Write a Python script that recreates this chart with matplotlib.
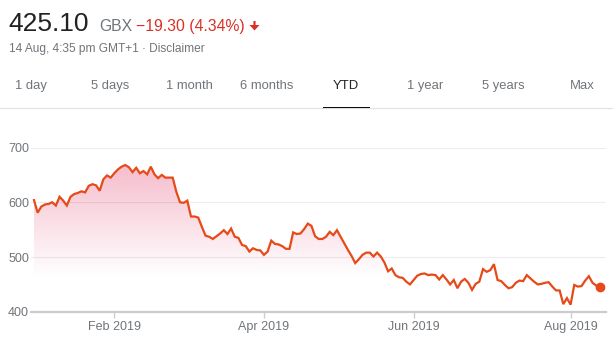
import numpy as np
import pandas as pd
import matplotlib
matplotlib.use("Agg")
import matplotlib.pyplot as plt
from matplotlib.lines import Line2D
from matplotlib.patches import Rectangle, FancyArrow

plt.rcParams['font.family'] = ['Liberation Sans', 'DejaVu Sans']

# daily closes (GBX), 2 Jan - 13 Aug 2019
prices = [
    604, 581, 592, 596, 597, 600, 594, 610, 603, 594,
    610, 615, 617, 620, 618, 630, 633, 631, 621, 642,
    649, 645, 653, 660, 665, 668, 664, 655, 663, 653,
    657, 651, 665, 651, 644, 650, 645, 645, 645, 619,
    600, 599, 603, 574, 574, 572, 555, 539, 537, 533,
    538, 543, 549, 542, 552, 537, 535, 522, 520, 510,
    516, 513, 512, 504, 510, 530, 524, 523, 520, 515,
    515, 545, 542, 543, 551, 561, 557, 538, 533, 533,
    537, 546, 540, 549, 537, 525, 513, 502, 489, 496,
    504, 508, 508, 501, 508, 501, 490, 474, 479, 467,
    463, 462, 455, 450, 458, 466, 469, 470, 467, 468,
    467, 459, 467, 459, 450, 458, 443, 455, 460, 453,
    440, 451, 455, 478, 473, 476, 487, 458, 456, 449,
    443, 445, 453, 457, 456, 467, 461, 455, 450, 451,
    453, 454, 446, 439, 439, 414, 425, 413, 449, 446,
    447, 457, 465, 453, 448, 444.4,
]
uk_holidays = ['2019-01-01', '2019-04-19', '2019-04-22', '2019-05-06', '2019-05-27']
dates = pd.bdate_range('2019-01-02', '2019-08-13', freq='C', holidays=uk_holidays)[:len(prices)]

tick_months = ['2019-02', '2019-04', '2019-06', '2019-08']
tick_labels = ['Feb 2019', 'Apr 2019', 'Jun 2019', 'Aug 2019']
y_ticks = [400, 500, 600, 700]

tabs = ['1 day', '5 days', '1 month', '6 months', 'YTD', '1 year', '5 years', 'Max']
tab_x = [31, 110, 189, 267, 346, 425.5, 503.5, 582.5]

W, H = 613, 343
GREY = '#70757a'
RED = '#d93025'
LINE = '#e64a19'


def px(x, y):
    return x / W, 1 - y / H


fig = plt.figure(figsize=(W / 100, H / 100), dpi=100)
ax = fig.add_axes([31 / W, 1 - 311.8 / H, 575 / W, 164.3 / H])

x = np.arange(len(prices))
y = np.array(prices)

# pink gradient under the line, fading out towards ~465
poly = ax.fill_between(x, y, 400, facecolor='none', edgecolor='none')
levels = np.linspace(680, 400, 300)
t = np.clip((levels - 465) / (670 - 465), 0, 1)
top = np.array([245, 188, 204]) / 255
grad = np.ones((300, 1, 4))
grad[:, 0, :3] = 1 - t[:, None] * (1 - top)
im = ax.imshow(grad, aspect='auto', extent=[-1, len(prices) + 1, 400, 680],
               origin='upper', zorder=1, interpolation='bilinear')
im.set_clip_path(poly.get_paths()[0], transform=ax.transData)

for v in y_ticks[1:]:
    ax.axhline(v, color='black', alpha=0.07, lw=0.8, zorder=2)

ax.plot(x, y, color=LINE, lw=1.6, zorder=3, solid_joinstyle='miter')
ax.plot(x[-1], y[-1], 'o', color=LINE, ms=6, zorder=4)

ax.set_xlim(-0.82, 156.7)
ax.set_ylim(400, 700)

month_str = np.array([d.strftime('%Y-%m') for d in dates])
tick_pos = [int(np.argmax(month_str == m)) for m in tick_months]
ax.set_xticks(tick_pos)
ax.set_xticklabels(tick_labels)
ax.set_yticks(y_ticks)
ax.tick_params(axis='x', length=4.3, width=1, color='#cccccc', pad=2,
               labelsize=9, labelcolor=GREY)
ax.tick_params(axis='y', length=0, pad=1.5, labelsize=9, labelcolor=GREY)
for s in ['top', 'right', 'left']:
    ax.spines[s].set_visible(False)
ax.spines['bottom'].set_color('#cccccc')
ax.spines['bottom'].set_linewidth(1.6)
ax.spines['bottom'].set_zorder(5)

# header
fig.text(*px(8.5, 30.7), '425.10', fontsize=19, color='#222222', va='baseline')
fig.text(*px(99.5, 30.7), 'GBX', fontsize=11.3, color=GREY, va='baseline')
fig.text(*px(136, 30.7), '\u221219.30 (4.34%)', fontsize=11.3, color=RED, va='baseline')
# bold down arrow (display coords, pixels from bottom-left)
fig.add_artist(FancyArrow(254.5, H - 21, 0, -9.5, width=2.2, head_width=10,
                          head_length=5.5, length_includes_head=True,
                          color=RED, lw=0, transform=None))
fig.text(*px(9, 52.3), '14 Aug, 4:35 pm GMT+1 \u00b7 Disclaimer', fontsize=8.6,
         color=GREY, va='baseline')

# range tabs
for label, tx in zip(tabs, tab_x):
    sel = label == 'YTD'
    fig.text(*px(tx, 89.3), label, fontsize=9.4, ha='center', va='baseline',
             color='#222222' if sel else GREY)
fig.add_artist(Line2D([0, 1], [1 - 107.8 / H] * 2, color='#e0e0e0', lw=0.8))
fig.add_artist(Rectangle(px(323, 109.3), 46.5 / W, 2.3 / H, color='black', lw=0))

fig.savefig('out.png', dpi=100)
